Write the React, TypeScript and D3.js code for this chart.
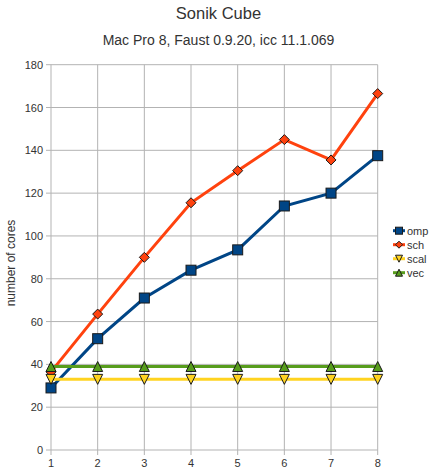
import React from "react";
import * as d3 from "d3";

const cores = [1, 2, 3, 4, 5, 6, 7, 8];
const omp = [29, 52, 71, 84, 93.5, 114, 120, 137.5];
const sch = [36.5, 63.5, 90, 115.5, 130.5, 145, 135.5, 166.5];
const scal = [33, 33, 33, 33, 33, 33, 33, 33];
const vec = [39, 39, 39, 39, 39, 39, 39, 39];
const yTicks = [0, 20, 40, 60, 80, 100, 120, 140, 160, 180];

const seriesNames = ["omp", "sch", "scal", "vec"];
const seriesData = [omp, sch, scal, vec];
const colors = ["#004586", "#ff420e", "#ffd320", "#579d1c"];
const shapes = ["square", "diamond", "down", "up"];

const W = 429, H = 468;
const x = d3.scaleLinear().domain([1, 8]).range([51, 377.7]);
const y = d3.scaleLinear().domain([0, 180]).range([450, 64.7]);
const FONT = "'Liberation Sans', Arial, sans-serif";

function Marker({ shape, cx, cy, color, s = 1 }: { shape: string; cx: number; cy: number; color: string; s?: number }) {
  const stroke = "#1a1a1a";
  const h = 5 * s;
  if (shape === "square") {
    return <rect x={cx - h} y={cy - h} width={2 * h} height={2 * h} fill={color} stroke={stroke} strokeWidth={1} />;
  }
  if (shape === "diamond") {
    return <path d={`M${cx},${cy - h}L${cx + h},${cy}L${cx},${cy + h}L${cx - h},${cy}Z`} fill={color} stroke={stroke} strokeWidth={1} />;
  }
  if (shape === "down") {
    return <path d={`M${cx - h},${cy - h}L${cx + h},${cy - h}L${cx},${cy + h}Z`} fill={color} stroke={stroke} strokeWidth={1} />;
  }
  return <path d={`M${cx - h},${cy + h}L${cx + h},${cy + h}L${cx},${cy - h}Z`} fill={color} stroke={stroke} strokeWidth={1} />;
}

export default function App() {
  const line = d3.line<number>().x((_, i) => x(cores[i])).y((v) => y(v));
  const grid = "#b3b3b3";
  return (
    <svg width={W} height={H} style={{ position: "absolute", left: 0, top: 0, background: "#fff" }} fontFamily={FONT}>
      <rect width={W} height={H} fill="#fff" />
      <text x={218.5} y={18.5} textAnchor="middle" fontSize={16.5} fill="#333">Sonik Cube</text>
      <text x={218.5} y={45} textAnchor="middle" fontSize={14} fill="#333">Mac Pro 8, Faust 0.9.20, icc 11.1.069</text>
      {yTicks.map((t) => (
        <g key={"y" + t}>
          <line x1={46} x2={377.7} y1={y(t)} y2={y(t)} stroke={grid} strokeWidth={1} />
          <text x={43} y={y(t) + 4} textAnchor="end" fontSize={11} fill="#333">{t}</text>
        </g>
      ))}
      {cores.map((c) => (
        <g key={"x" + c}>
          <line x1={x(c)} x2={x(c)} y1={y(180)} y2={455} stroke={grid} strokeWidth={1} />
          <text x={x(c)} y={467} textAnchor="middle" fontSize={11} fill="#333">{c}</text>
        </g>
      ))}
      <text transform={`translate(15,263) rotate(-90)`} textAnchor="middle" fontSize={12} fill="#333">number of cores</text>
      {seriesData.map((d, k) => (
        <path key={"l" + k} d={line(d) || ""} fill="none" stroke={colors[k]} strokeWidth={3} />
      ))}
      {seriesData.map((d, k) =>
        d.map((v, i) => <Marker key={`m${k}-${i}`} shape={shapes[k]} cx={x(cores[i])} cy={y(v)} color={colors[k]} />)
      )}
      {seriesNames.map((n, k) => {
        const ly = 230.7 + k * 14;
        return (
          <g key={"lg" + n}>
            <line x1={393} x2={405} y1={ly} y2={ly} stroke={colors[k]} strokeWidth={3} />
            <Marker shape={shapes[k]} cx={399} cy={ly} color={colors[k]} s={0.7} />
            <text x={407} y={ly + 4} fontSize={11} fill="#333">{n}</text>
          </g>
        );
      })}
    </svg>
  );
}
